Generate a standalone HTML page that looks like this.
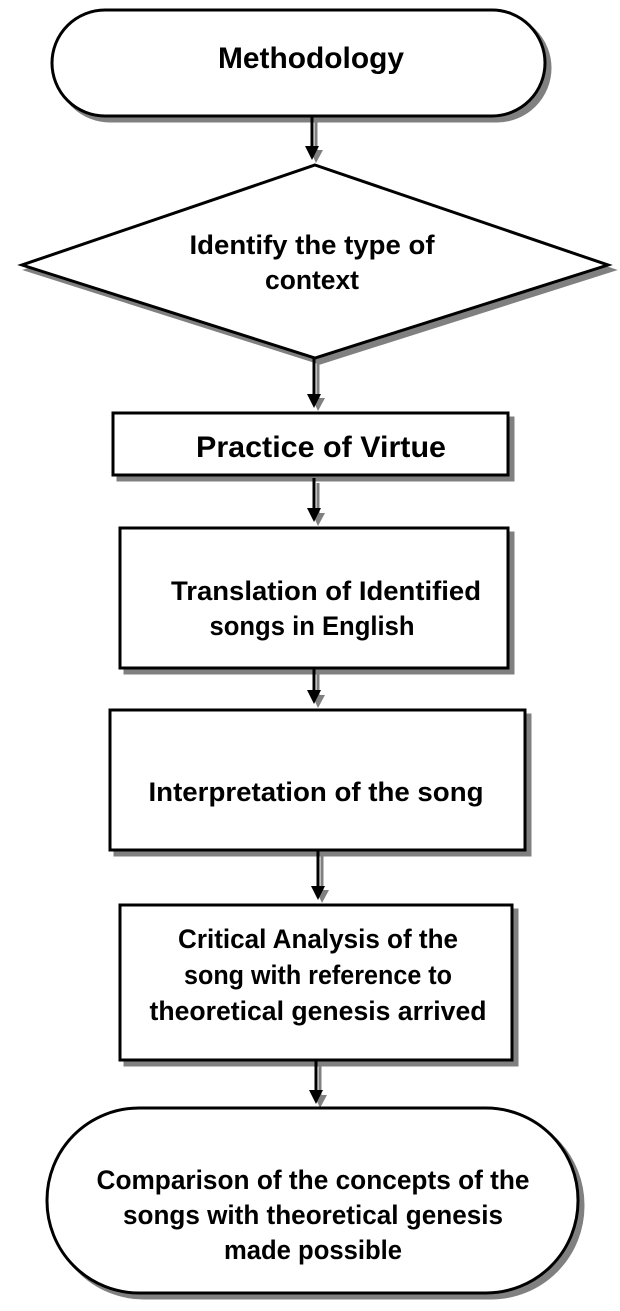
<!DOCTYPE html>
<html><head><meta charset="utf-8"><style>
body{margin:0;background:#fff;width:620px;height:1306px;overflow:hidden}
svg text{font-family:"Liberation Sans",Arial,sans-serif;font-weight:bold;fill:#000;text-anchor:middle}
</style></head><body>
<svg width="620" height="1306" viewBox="0 0 620 1306" xmlns="http://www.w3.org/2000/svg">
<g fill="#808080" stroke="#808080" stroke-width="3">
<rect x="57" y="15" width="493" height="106" rx="53"/>
<polygon points="320,170 613,270 320,363 27,270"/>
<rect x="118" y="418" width="395" height="62"/>
<rect x="125" y="533" width="388" height="140"/>
<rect x="115" y="715" width="415" height="140"/>
<rect x="125" y="910" width="392" height="155"/>
<rect x="52" y="1113" width="531" height="185" rx="92"/>
</g>
<g stroke="#808080" stroke-width="3">
<line x1="316" y1="120" x2="316" y2="150"/>
<line x1="318" y1="362" x2="318" y2="398"/>
<line x1="318" y1="483" x2="318" y2="513"/>
<line x1="318" y1="672" x2="318" y2="695"/>
<line x1="322" y1="856" x2="322" y2="890"/>
<line x1="320" y1="1066" x2="320" y2="1095"/>
</g>
<g fill="#808080">
<polygon points="310,150 323,150 316,163"/>
<polygon points="312,398 325,398 318,411"/>
<polygon points="312,513 325,513 318,526"/>
<polygon points="312,695 325,695 318,708"/>
<polygon points="316,890 329,890 322,903"/>
<polygon points="314,1095 327,1095 320,1108"/>
</g>
<g fill="#fff" stroke="#000" stroke-width="3">
<rect x="52" y="10" width="493" height="106" rx="53"/>
<polygon points="315,165 608,265 315,358 22,265"/>
<rect x="113" y="413" width="395" height="62"/>
<rect x="120" y="528" width="388" height="140"/>
<rect x="110" y="710" width="415" height="140"/>
<rect x="120" y="905" width="392" height="155"/>
<rect x="47" y="1108" width="531" height="185" rx="92"/>
</g>
<g stroke="#000" stroke-width="3">
<line x1="312" y1="116" x2="312" y2="146"/>
<line x1="314" y1="358" x2="314" y2="394"/>
<line x1="314" y1="478" x2="314" y2="508"/>
<line x1="314" y1="668" x2="314" y2="690"/>
<line x1="318" y1="850" x2="318" y2="886"/>
<line x1="316" y1="1060" x2="316" y2="1090"/>
</g>
<g fill="#000">
<polygon points="305,146 319,146 312,160"/>
<polygon points="307,394 321,394 314,408"/>
<polygon points="307,508 321,508 314,522"/>
<polygon points="307,690 321,690 314,704"/>
<polygon points="311,886 325,886 318,900"/>
<polygon points="309,1090 323,1090 316,1104"/>
</g>
<text x="311" y="68" font-size="30" textLength="186" lengthAdjust="spacingAndGlyphs">Methodology</text>
<text x="312" y="254" font-size="27" textLength="245" lengthAdjust="spacingAndGlyphs">Identify the type of</text>
<text x="312" y="289" font-size="27" textLength="94" lengthAdjust="spacingAndGlyphs">context</text>
<text x="321" y="457" font-size="30" textLength="250" lengthAdjust="spacingAndGlyphs">Practice of Virtue</text>
<text x="326" y="600" font-size="27" textLength="310" lengthAdjust="spacingAndGlyphs">Translation of Identified</text>
<text x="312" y="635" font-size="27" textLength="205" lengthAdjust="spacingAndGlyphs">songs in English</text>
<text x="316" y="801" font-size="27" textLength="335" lengthAdjust="spacingAndGlyphs">Interpretation of the song</text>
<text x="318" y="948" font-size="27" textLength="280" lengthAdjust="spacingAndGlyphs">Critical Analysis of the</text>
<text x="318" y="984" font-size="27" textLength="268" lengthAdjust="spacingAndGlyphs">song with reference to</text>
<text x="318" y="1020" font-size="27" textLength="337" lengthAdjust="spacingAndGlyphs">theoretical genesis arrived</text>
<text x="313" y="1189" font-size="27" textLength="433" lengthAdjust="spacingAndGlyphs">Comparison of the concepts of the</text>
<text x="313" y="1224" font-size="27" textLength="380" lengthAdjust="spacingAndGlyphs">songs with theoretical genesis</text>
<text x="313" y="1259" font-size="27" textLength="178" lengthAdjust="spacingAndGlyphs">made possible</text>
</svg>
</body></html>
